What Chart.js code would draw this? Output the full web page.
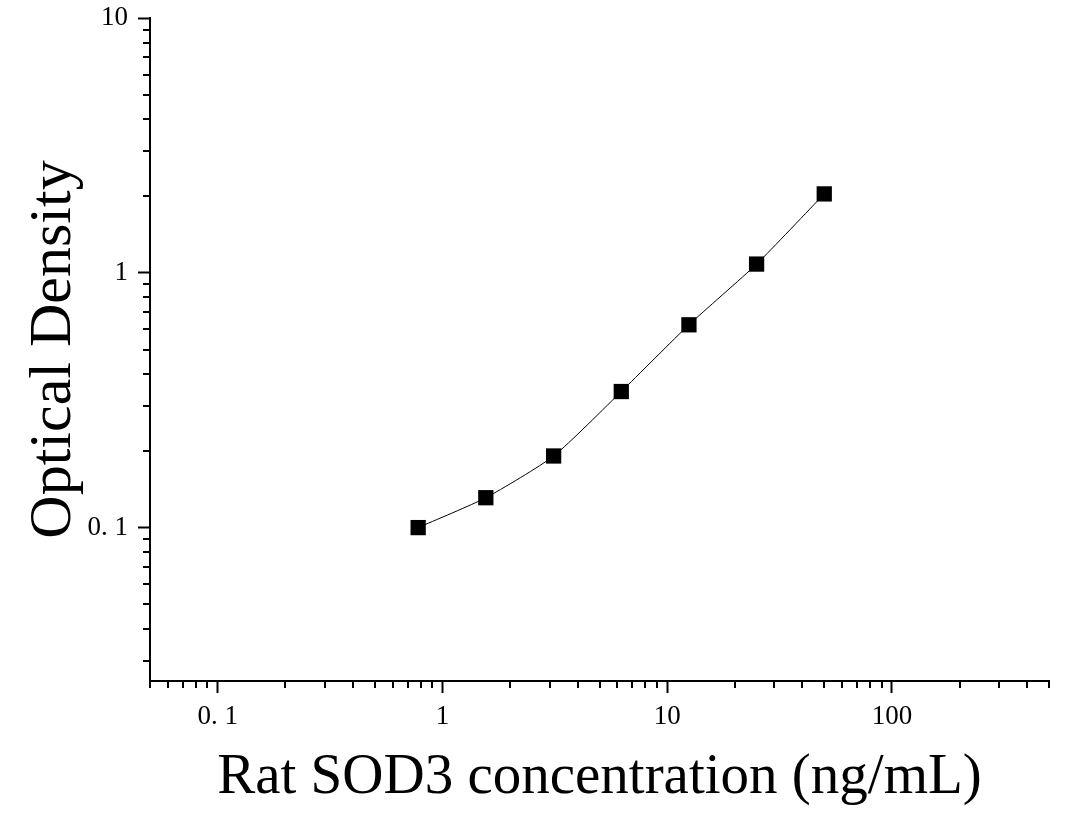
<!DOCTYPE html>
<html>
<head>
<meta charset="utf-8">
<script src="https://cdn.jsdelivr.net/npm/chart.js@4/dist/chart.umd.min.js"></script>
<style>
  html, body { margin: 0; padding: 0; background: #fff; }
  #wrap { width: 1067px; height: 818px; }
</style>
</head>
<body>
<div id="wrap"><canvas id="chart"></canvas></div>
<script>
// standard curve values
const concentrations = [0.78, 1.56, 3.125, 6.25, 12.5, 25, 50]
const opticalDensity = [0.100, 0.131, 0.191, 0.342, 0.625, 1.082, 2.04]

const xRange = [0.05, 500]
const yRange = [0.025, 10]
const xMajorTicks = [0.1, 1, 10, 100]
const xTickLabels = ['0. 1', '1', '10', '100']
const yMajorTicks = [0.1, 1, 10]
const yTickLabels = ['0. 1', '1', '10']

const FONT = "'Liberation Serif', 'Times New Roman', serif"

// 2..9 x 10^n inside a range, for the short log ticks
function minorTicks(min, max) {
  const out = []
  for (let n = -3; n <= 3; n++) {
    for (let k = 2; k <= 9; k++) {
      const v = Number((k * Math.pow(10, n)).toPrecision(3))
      if (v >= min && v <= max) out.push(v)
    }
  }
  return out
}

const xMinorTicks = minorTicks(xRange[0], xRange[1])
const yMinorTicks = minorTicks(yRange[0], yRange[1])

const points = concentrations.map((c, i) => ({ x: c, y: opticalDensity[i] }))

const minorTickPlugin = {
  id: 'minorTicks',
  afterDraw(chart) {
    const { ctx, chartArea, scales } = chart
    ctx.save()
    ctx.strokeStyle = '#000'
    ctx.lineWidth = 2
    ctx.beginPath()
    xMinorTicks.forEach(v => {
      const px = Math.round(scales.x.getPixelForValue(v))
      ctx.moveTo(px, chartArea.bottom)
      ctx.lineTo(px, chartArea.bottom + 7)
    })
    yMinorTicks.forEach(v => {
      const py = Math.round(scales.y.getPixelForValue(v))
      ctx.moveTo(chartArea.left - 7, py)
      ctx.lineTo(chartArea.left, py)
    })
    ctx.stroke()
    ctx.restore()
  },
}

new Chart(document.getElementById('chart'), {
  data: {
    datasets: [
      {
        type: 'line',
        label: 'fit',
        data: points,
        borderColor: '#000',
        borderWidth: 1,
        pointRadius: 0,
        tension: 0.2,
        fill: false,
      },
      {
        type: 'scatter',
        label: 'standards',
        data: points,
        pointStyle: 'rect',
        pointRadius: 10.8,
        pointHoverRadius: 10.8,
        backgroundColor: '#000',
        borderColor: '#000',
        borderWidth: 0,
      },
    ],
  },
  options: {
    responsive: true,
    maintainAspectRatio: false,
    animation: false,
    layout: { padding: { top: 18, right: 18, left: 0, bottom: 0 } },
    plugins: {
      legend: { display: false },
      tooltip: { enabled: false },
    },
    scales: {
      x: {
        type: 'logarithmic',
        position: 'bottom',
        min: xRange[0],
        max: xRange[1],
        afterBuildTicks: scale => { scale.ticks = xMajorTicks.map(v => ({ value: v })) },
        afterFit: scale => {
          scale.height = 137
          scale.paddingLeft = 0
          scale.paddingRight = 0
        },
        grid: { drawOnChartArea: false, tickLength: 12, tickWidth: 2, tickColor: '#000' },
        border: { color: '#000', width: 2 },
        ticks: {
          autoSkip: false,
          maxRotation: 0,
          padding: 8,
          color: '#000',
          font: { family: FONT, size: 27 },
          callback: value => xTickLabels[xMajorTicks.indexOf(value)],
        },
        title: {
          display: true,
          text: 'Rat SOD3 concentration (ng/mL)',
          color: '#000',
          font: { family: FONT, size: 57, lineHeight: 1 },
          padding: { top: 0, bottom: 11 },
        },
      },
      y: {
        type: 'logarithmic',
        position: 'left',
        min: yRange[0],
        max: yRange[1],
        afterBuildTicks: scale => { scale.ticks = yMajorTicks.map(v => ({ value: v })) },
        afterFit: scale => {
          scale.width = 150
          scale.paddingTop = 0
          scale.paddingBottom = 0
        },
        grid: { drawOnChartArea: false, tickLength: 12, tickWidth: 2, tickColor: '#000' },
        border: { color: '#000', width: 2 },
        ticks: {
          autoSkip: false,
          padding: 10,
          color: '#000',
          font: { family: FONT, size: 27 },
          callback: value => yTickLabels[yMajorTicks.indexOf(value)],
        },
        title: {
          display: true,
          text: 'Optical Density',
          color: '#000',
          font: { family: FONT, size: 60, lineHeight: 1 },
          padding: { top: 24, bottom: 0 },
        },
      },
    },
  },
  plugins: [minorTickPlugin],
})
</script>
</body>
</html>
